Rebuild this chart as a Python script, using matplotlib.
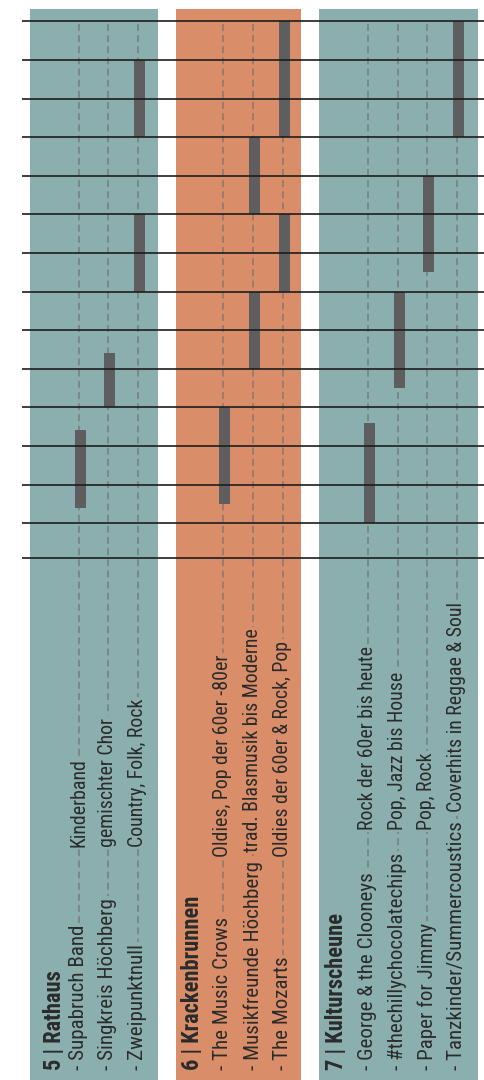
import matplotlib
matplotlib.use("Agg")
import matplotlib.pyplot as plt
import matplotlib.transforms as mtrans
from matplotlib import font_manager

# condensed face if there is one
names = set(f.name for f in font_manager.fontManager.ttflist)
fam = [n for n in ['Roboto Condensed', 'Liberation Sans Narrow', 'Roboto'] if n in names]
plt.rcParams['font.family'] = fam[:1] + ['DejaVu Sans']

# stages, bands, genres
stages = ["5 | Rathaus", "6 | Krackenbrunnen", "7 | Kulturscheune"]
bands = [
    ["Supabruch Band", "Singkreis Höchberg", "Zweipunktnull"],
    ["The Music Crows", "Musikfreunde Höchberg", "The Mozarts"],
    ["George & the Clooneys", "#thechillychocolatechips", "Paper for Jimmy",
     "Tanzkinder/Summercoustics"],
]
genres = [
    ["Kinderband", "gemischter Chor", "Country, Folk, Rock"],
    ["Oldies, Pop der 60er -80er", "trad. Blasmusik bis Moderne",
     "Oldies der 60er & Rock, Pop"],
    ["Rock der 60er bis heute", "Pop, Jazz bis House", "Pop, Rock",
     "Coverhits in Reggae & Soul"],
]

# playing times in hours: (stage, band, start, end)
slots_stage = [0, 0, 0, 0, 1, 1, 1, 1, 1, 2, 2, 2, 2]
slots_band = [0, 1, 2, 2, 0, 1, 1, 2, 2, 0, 1, 2, 3]
slots_start = [15.7, 17.0, 18.5, 20.5, 15.75, 17.5, 19.5, 18.5, 20.5, 15.5, 17.25, 18.75, 20.5]
slots_end = [16.7, 17.7, 19.5, 21.5, 17.0, 18.5, 20.5, 19.5, 22.0, 16.8, 18.5, 20.0, 22.0]

# half hour lines
hour_lines = [15.05, 15.5, 16.0, 16.5, 17.0, 17.5, 18.0, 18.5, 19.0, 19.5,
              20.0, 20.5, 21.0, 21.5, 22.0]

# layout (pixels, top-down)
W, H = 485, 1080
panel_x = [(30, 158), (176, 301), (319, 478)]
panel_col = ["#8aafae", "#d98e69", "#8aafae"]
lane_x = [[79, 108, 138], [223, 253, 283], [368, 398, 427, 457]]
title_x = [55, 193, 337]
genre_y = [847, 857, 830]
text_col = "#2b2b2b"

fig = plt.figure(figsize=(W / 100, H / 100), dpi=100)
ax = fig.add_axes([0, 0, 1, 1])
ax.set_xlim(0, W)
ax.set_ylim(22.0 - (H - 21.3) / 77.2, 22.0 + 21.3 / 77.2)
ax.axis('off')

# x in data, y in axes fraction
blend = mtrans.blended_transform_factory(ax.transData, ax.transAxes)
fig.canvas.draw()
renderer = fig.canvas.get_renderer()


def py(y):
    return 1 - y / H


def ptime(y):
    return 22.0 - (y - 21.3) / 77.2


def fit_size(txt, target, weight='normal'):
    # font size so that txt is target px long
    t = fig.text(0, 0, txt, fontsize=10, fontweight=weight)
    w = t.get_window_extent(renderer).width
    t.remove()
    return 10 * target / w


title_fs = fit_size("7 | Kulturscheune", 157, 'bold')
name_fs = fit_size("- George & the Clooneys", 197)
genre_fs = fit_size("Coverhits in Reggae & Soul", 210)

for s in range(len(stages)):
    x0, x1 = panel_x[s]
    ax.add_patch(plt.Rectangle((x0, py(H)), x1 - x0, py(9) - py(H),
                               transform=blend, facecolor=panel_col[s],
                               edgecolor='none', zorder=0))
    ax.text(title_x[s], py(1070), stages[s], transform=blend, rotation=90,
            ha='center', va='bottom', fontsize=title_fs, fontweight='bold',
            color=text_col, zorder=2)

for s in range(len(stages)):
    for b in range(len(bands[s])):
        x = lane_x[s][b]
        ax.plot([x, x], [ptime(24), ptime(1062)], color="#6e6e6e", alpha=0.75,
                lw=1.1, dashes=(4.5, 2.8), zorder=1)
        box = dict(facecolor=panel_col[s], edgecolor='none', pad=1.2)
        t = ax.text(x, py(1070), "- " + bands[s][b], transform=blend,
                    rotation=90, ha='center', va='bottom', fontsize=name_fs,
                    color=text_col, bbox=box, zorder=2)
        ext = t.get_window_extent(renderer)
        name_top = H - ext.y1
        gy = min(genre_y[s], name_top - 9)
        ax.text(x, py(gy), genres[s][b], transform=blend, rotation=90,
                ha='center', va='bottom', fontsize=genre_fs, color=text_col,
                bbox=box, zorder=2)

for i in range(len(slots_stage)):
    s, b = slots_stage[i], slots_band[i]
    x = lane_x[s][b] + 1.5
    ax.bar(x, slots_end[i] - slots_start[i], bottom=slots_start[i], width=11.5,
           color="#5e5e60", zorder=3)

for h in hour_lines:
    ax.plot([22, W], [h, h], color="#1e1e1e", lw=1.2, zorder=4,
            solid_capstyle='butt')

fig.savefig("out.png", dpi=100)
